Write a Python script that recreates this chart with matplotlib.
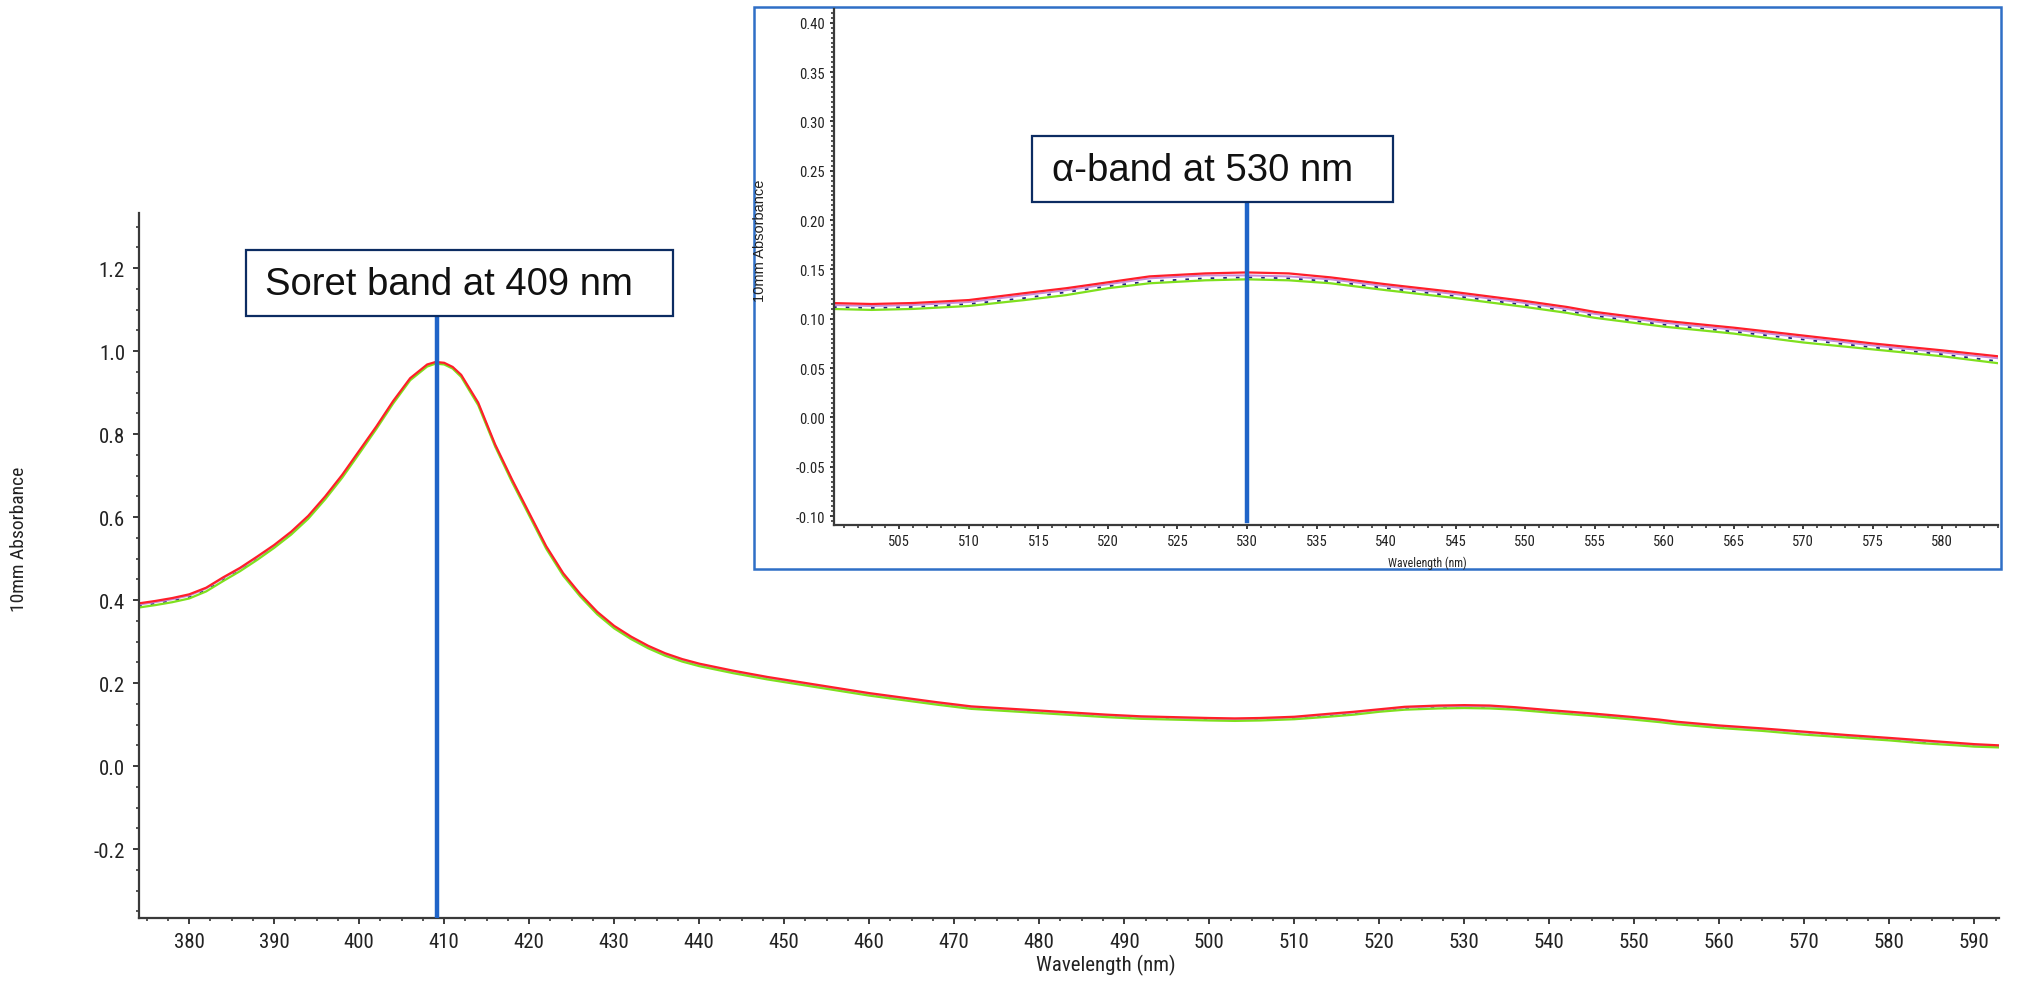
import matplotlib
matplotlib.use("Agg")
import matplotlib.pyplot as plt
from matplotlib import font_manager
from matplotlib.patches import Rectangle
from matplotlib.ticker import MultipleLocator, FormatStrFormatter

# spectra (4 overlapping scans)
wavelength = [374, 376, 378, 380, 382, 384, 386, 388, 390, 392, 394, 396, 398, 400, 402, 404, 406, 408,
              409, 410, 411, 412,
              414, 416, 418, 420, 422, 424, 426, 428, 430, 432, 434, 436, 438, 440,
              444, 448, 452, 456, 460, 464, 468, 472, 476, 480, 484, 488, 492, 496, 500,
              503, 506, 510, 514, 517, 520, 523, 527, 530, 533, 536, 540, 545, 550, 553, 555,
              560, 565, 570, 575, 580, 584, 588, 590, 593]

scan_red = [.392, .398, .405, .414, .430, .455, .478, .505, .533, .565, .603, .650, .702, .760, .818, .880, .935, .968,
            .974, .972, .962, .943,
            .876, .775, .690, .610, .530, .465, .415, .372, .338, .312, .290, .272, .258, .247,
            .230, .215, .202, .189, .176, .165, .154, .144, .139, .134, .129, .124, .120, .118, .116,
            .115, .116, .119, .126, .131, .137, .143, .146, .147, .146, .142, .135, .127, .118, .112, .107,
            .098, .091, .083, .075, .068, .062, .056, .053, .050]

scan_violet = [.389, .395, .402, .411, .428, .453, .476, .503, .531, .563, .601, .648, .700, .758, .816, .878, .933, .966,
               .972, .970, .960, .941,
               .874, .773, .688, .608, .528, .463, .413, .370, .336, .310, .288, .270, .256, .245,
               .228, .213, .200, .187, .174, .163, .152, .142, .137, .132, .127, .122, .118, .116, .114,
               .113, .114, .117, .124, .129, .135, .141, .144, .144, .143, .140, .133, .125, .116, .110, .105,
               .096, .089, .081, .073, .066, .060, .054, .051, .048]

scan_navy = [.386, .392, .399, .408, .425, .450, .474, .501, .530, .562, .600, .646, .698, .756, .815, .877, .932, .966,
             .972, .970, .960, .941,
             .873, .772, .687, .607, .527, .462, .412, .369, .335, .309, .287, .269, .255, .244,
             .227, .212, .199, .186, .173, .162, .151, .141, .136, .131, .126, .121, .117, .114, .112,
             .111, .112, .115, .121, .127, .133, .138, .141, .142, .141, .138, .131, .123, .114, .108, .103,
             .094, .087, .079, .071, .064, .057, .052, .049, .046]

scan_green = [.382, .388, .395, .404, .421, .446, .470, .497, .526, .558, .596, .643, .695, .753, .812, .874, .930, .963,
              .970, .968, .958, .938,
              .870, .770, .684, .604, .524, .459, .409, .366, .332, .306, .284, .266, .252, .241,
              .224, .209, .196, .183, .170, .159, .148, .138, .133, .128, .123, .118, .114, .112, .110,
              .109, .110, .113, .119, .124, .131, .136, .139, .140, .139, .136, .129, .121, .112, .106, .101,
              .092, .085, .076, .069, .062, .055, .050, .047, .045]

soret_nm = 409.2
alpha_nm = 530
soret_text = "Soret band at 409 nm"
alpha_text = "α-band at 530 nm"

plt.rcParams["axes.unicode_minus"] = False

available = {f.name for f in font_manager.fontManager.ttflist}
narrow = [n for n in ["Liberation Sans Narrow", "Arial Narrow", "Roboto Condensed", "Liberation Sans"]
          if n in available] + ["DejaVu Sans"]
plain = [n for n in ["Liberation Sans"] if n in available] + ["DejaVu Sans"]

W, H = 2021, 987
fig = plt.figure(figsize=(W / 100, H / 100), dpi=100)
fig.patch.set_facecolor("white")


def fx(px):
    return px / W


def fy(py):
    return 1 - py / H


line_blue = "#1f64c8"
box_edge = "#0c2c62"
tick_col = "#222222"
spine_col = "#3a3a3a"

# drawn bottom to top
scans = [(scan_navy, "#23237e", (0, (2, 5)), 1.3), (scan_violet, "#c88ad8", "-", 1.4),
         (scan_green, "#7fe01e", "-", 1.6), (scan_red, "#ff1f2a", "-", 1.6)]


def style_axes(ax, size):
    for s in ["top", "right"]:
        ax.spines[s].set_visible(False)
    for s in ["left", "bottom"]:
        ax.spines[s].set_color(spine_col)
        ax.spines[s].set_linewidth(1.6)
    ax.tick_params(which="major", length=4, width=1.4, color=spine_col, labelsize=size,
                   labelcolor=tick_col)
    ax.tick_params(which="minor", length=2.5, width=1.2, color=spine_col)
    for lab in ax.get_xticklabels() + ax.get_yticklabels():
        lab.set_family(narrow)


# ---- main spectrum
ax = fig.add_axes([fx(139), fy(919), fx(1999 - 139), (919 - 214) / H])
for ys, c, ls, lw in scans:
    ax.plot(wavelength, ys, color=c, lw=lw, ls=ls)
ax.set_xlim(374.1, 592.9)
ax.set_ylim(-0.366, 1.333)
ax.plot([soret_nm, soret_nm], [-0.366, 1.084], color=line_blue, lw=3.2, zorder=5)
ax.xaxis.set_major_locator(MultipleLocator(10))
ax.xaxis.set_minor_locator(MultipleLocator(2.5))
ax.yaxis.set_major_locator(MultipleLocator(0.2))
ax.yaxis.set_minor_locator(MultipleLocator(0.05))
ax.yaxis.set_major_formatter(FormatStrFormatter("%.1f"))
ax.tick_params(axis="x", pad=6)
ax.tick_params(axis="y", pad=6)
style_axes(ax, 15)

fig.text(fx(1106), fy(965), "Wavelength (nm)", ha="center", va="center",
         fontsize=15, color=tick_col, family=narrow)
fig.text(fx(19), fy(539), "10mm Absorbance", ha="center", va="center", rotation=90,
         fontsize=14, color=tick_col, family=narrow)

# ---- inset frame
fig.add_artist(Rectangle((fx(754), fy(570)), fx(2001 - 754), (570 - 8) / H,
                         transform=fig.transFigure, facecolor="white",
                         edgecolor="#2f6fc6", lw=1.8, zorder=1))

# ---- inset zoom on 500-584 nm
ins = fig.add_axes([fx(834), fy(526), fx(1998 - 834), (526 - 10) / H], zorder=2)
ins.patch.set_alpha(0)
for ys, c, ls, lw in scans:
    ins.plot(wavelength, ys, color=c, lw=lw, ls=ls)
ins.set_xlim(500.3, 584.0)
ins.set_ylim(-0.109, 0.414)
ins.plot([alpha_nm, alpha_nm], [-0.105, 0.218], color=line_blue, lw=3.2, zorder=5)
ins.xaxis.set_major_locator(MultipleLocator(5))
ins.xaxis.set_minor_locator(MultipleLocator(1))
ins.yaxis.set_major_locator(MultipleLocator(0.05))
ins.yaxis.set_minor_locator(MultipleLocator(0.005))
ins.yaxis.set_major_formatter(FormatStrFormatter("%.2f"))
style_axes(ins, 10.5)
ins.tick_params(which="major", length=3)
ins.tick_params(which="minor", length=2)

fig.text(fx(1427), fy(563), "Wavelength (nm)", ha="center", va="center",
         fontsize=8.5, color=tick_col, family=narrow, zorder=3)
fig.text(fx(760), fy(241), "10mm Absorbance", ha="center", va="center", rotation=90,
         fontsize=10.5, color=tick_col, family=plain, zorder=3)

# ---- callout boxes
for (x0, y0, x1, y1), tx, label in [((246, 251, 673, 317), 265, soret_text),
                                     ((1032, 137, 1393, 203), 1052, alpha_text)]:
    fig.add_artist(Rectangle((fx(x0), fy(y1)), fx(x1 - x0), (y1 - y0) / H,
                             transform=fig.transFigure, facecolor="white",
                             edgecolor=box_edge, lw=1.6, zorder=6))
    fig.text(fx(tx), fy((y0 + y1) / 2 + 1), label, ha="left", va="center",
             fontsize=27.5, color="#111111", family=plain, zorder=7)

fig.savefig("out.png", dpi=100)
